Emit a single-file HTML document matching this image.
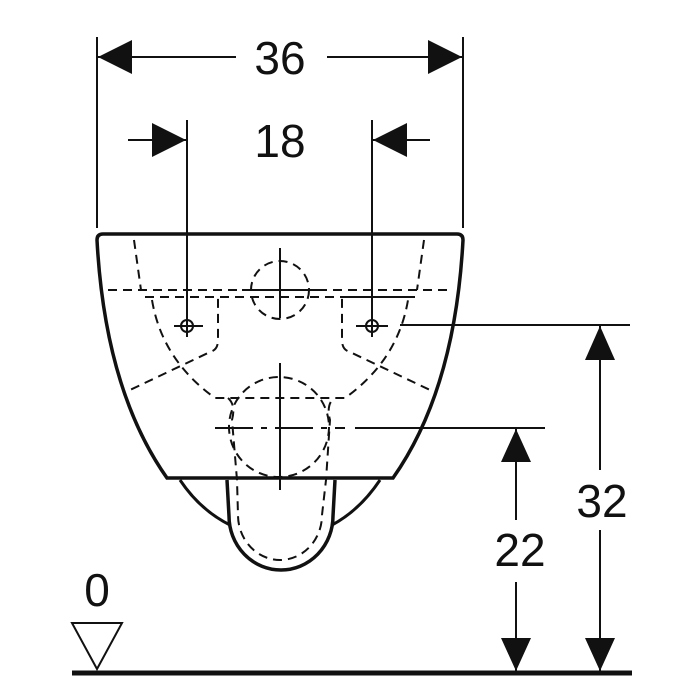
<!DOCTYPE html>
<html><head><style>html,body{margin:0;padding:0;background:#fff}svg{display:block}</style></head>
<body>
<svg width="700" height="700" viewBox="0 0 700 700" xmlns="http://www.w3.org/2000/svg">
<g fill="none" stroke="#111" stroke-width="2">
<!-- extension lines -->
<line x1="97" y1="37" x2="97" y2="228"/>
<line x1="463" y1="37" x2="463" y2="228"/>
<line x1="187" y1="120" x2="187" y2="318"/>
<line x1="372" y1="120" x2="372" y2="318"/>
<!-- 36 dim -->
<line x1="97" y1="57" x2="236" y2="57"/>
<line x1="327" y1="57" x2="463" y2="57"/>
<!-- 18 dim -->
<line x1="128" y1="140" x2="187" y2="140"/>
<line x1="372" y1="140" x2="430" y2="140"/>
<!-- right dims -->
<line x1="400" y1="325" x2="630" y2="325"/>
<line x1="355" y1="428" x2="545" y2="428"/>
<line x1="600" y1="325" x2="600" y2="470"/>
<line x1="600" y1="530" x2="600" y2="672"/>
<line x1="516" y1="428" x2="516" y2="520"/>
<line x1="516" y1="582" x2="516" y2="672"/>
<!-- centre lines -->
<line x1="215" y1="428" x2="345" y2="428" stroke-dasharray="38,8,6,8"/>
<line x1="280" y1="363" x2="280" y2="490"/>
<line x1="280" y1="248" x2="280" y2="318"/>
<line x1="242" y1="290" x2="318" y2="290"/>
<!-- bowl outline -->
<path d="M103 234 L457 234 Q463 234 463 240 Q455 390 393 478 L167 478 Q105 390 97 240 Q97 234 103 234 Z" stroke-width="3.5"/>
<path d="M180 480 Q200 510 230 525" stroke-width="3"/>
<path d="M380 480 Q360 510 332 525" stroke-width="3"/>
<path d="M227 480 L229 516 A52 54 0 0 0 333 516 L335 480" stroke-width="3.5"/>
</g>
<g fill="none" stroke="#111" stroke-width="2" stroke-dasharray="9,6">
<line x1="108" y1="290" x2="452" y2="290"/>
<line x1="145" y1="297" x2="415" y2="297"/>
<path d="M134 240 L141 290"/>
<path d="M424 240 L417 290"/>
<circle cx="280" cy="290" r="29"/>
<path d="M145 297 L218 297 Q218 300 218 340 Q218 350 210 352 L130 390"/>
<path d="M415 297 L342 297 Q342 300 342 340 Q342 350 350 352 L430 390"/>
<path d="M152 300 Q162 360 215 398 L345 398 Q398 360 408 300"/>
<circle cx="279" cy="427" r="50"/>
<path d="M228 398 Q236 405 232 420 L237 480 L238 515 A42 45 0 0 0 322 515 L326 480 L330 420 Q326 405 334 398"/>
</g>
<g fill="none" stroke="#111" stroke-width="2">
<circle cx="187" cy="326" r="6"/><line x1="174" y1="326" x2="203" y2="326"/><line x1="187" y1="315" x2="187" y2="337"/>
<circle cx="372" cy="326" r="6"/><line x1="356" y1="326" x2="388" y2="326"/><line x1="372" y1="315" x2="372" y2="337"/>
</g>
<g fill="#111">
<polygon points="98,57 132,40 132,74"/>
<polygon points="462,57 428,40 428,74"/>
<polygon points="186,140 152,123 152,157"/>
<polygon points="373,140 407,123 407,157"/>
<polygon points="600,326 585,360 615,360"/>
<polygon points="600,671 585,638 615,638"/>
<polygon points="516,429 501,462 531,462"/>
<polygon points="516,671 501,638 531,638"/>
</g>
<line x1="72" y1="673" x2="632" y2="673" stroke="#111" stroke-width="5"/>
<polygon points="72,623 122,623 97,669" fill="none" stroke="#111" stroke-width="2"/>
<g font-family="Liberation Sans, sans-serif" font-size="46" fill="#111" text-anchor="middle">
<text x="280" y="74">36</text>
<text x="280" y="157">18</text>
<text x="602" y="517">32</text>
<text x="520" y="566">22</text>
<text x="97" y="606">0</text>
</g>
</svg>
</body></html>
